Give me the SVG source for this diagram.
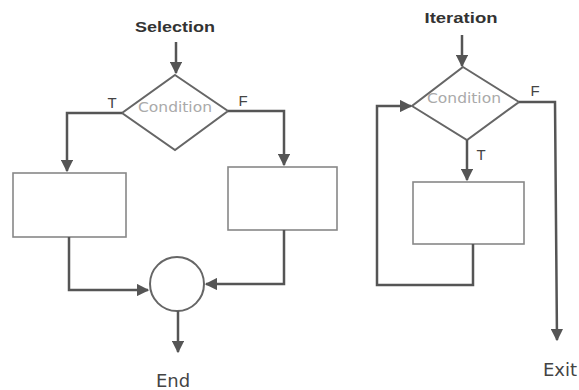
<svg xmlns="http://www.w3.org/2000/svg" width="579" height="390" viewBox="0 0 579 390">
  <style>
    .line { fill: none; stroke: #555; stroke-width: 2.5; }
    .shape { fill: #fff; stroke: #666; stroke-width: 2; }
    .box { fill: #fff; stroke: #888; stroke-width: 1.6; }
    .title { font-family: "Liberation Sans", Arial, sans-serif; font-size: 15px; font-weight: bold; fill: #333; text-anchor: middle; }
    .cond { font-family: "DejaVu Sans", sans-serif; font-size: 14px; fill: #aaa; text-anchor: middle; }
    .lbl { font-family: "Liberation Sans", Arial, sans-serif; font-size: 15px; fill: #444; text-anchor: middle; }
    .term { font-family: "DejaVu Sans", sans-serif; font-size: 18px; fill: #444; text-anchor: middle; }
  </style>
  <defs>
    <marker id="arrow" viewBox="0 0 10 10" refX="9" refY="5" markerWidth="5" markerHeight="5" orient="auto" markerUnits="strokeWidth">
      <path d="M0,0 L10,5 L0,10 z" fill="#555"/>
    </marker>
  </defs>

  <!-- Selection structure -->
  <text class="title" x="175" y="32" textLength="80" lengthAdjust="spacingAndGlyphs">Selection</text>
  <g id="sel-decision">
    <polygon class="shape" points="175,75 228,111 175,150 122,113"/>
    <text class="cond" x="175" y="112" textLength="74" lengthAdjust="spacingAndGlyphs">Condition</text>
  </g>
  <g id="sel-true-box">
    <rect class="box" x="13" y="173" width="113" height="64"/>
  </g>
  <g id="sel-false-box">
    <rect class="box" x="228" y="167" width="109" height="63"/>
  </g>
  <g id="sel-join">
    <circle class="shape" cx="177" cy="284" r="27"/>
  </g>
  <text class="lbl" x="112" y="108">T</text>
  <text class="lbl" x="243" y="106">F</text>
  <text class="term" x="173" y="387">End</text>

  <!-- Iteration structure -->
  <text class="title" x="461" y="23" textLength="73" lengthAdjust="spacingAndGlyphs">Iteration</text>
  <g id="iter-decision">
    <polygon class="shape" points="463,67 519,102 467,140 412,106"/>
    <text class="cond" x="464" y="103" textLength="74" lengthAdjust="spacingAndGlyphs">Condition</text>
  </g>
  <g id="iter-body">
    <rect class="box" x="413" y="182" width="111" height="62"/>
  </g>
  <text class="lbl" x="535" y="96">F</text>
  <text class="lbl" x="481" y="160">T</text>
  <text class="term" x="560" y="376">Exit</text>

  <g id="connectors">
    <!-- selection -->
    <path class="line" d="M176,42 L176,73" marker-end="url(#arrow)"/>
    <path class="line" d="M122,113 L67,113 L67,171" marker-end="url(#arrow)"/>
    <path class="line" d="M228,111 L284,111 L284,165" marker-end="url(#arrow)"/>
    <path class="line" d="M69,237 L69,290 L148,290" marker-end="url(#arrow)"/>
    <path class="line" d="M284,230 L284,284 L206,284" marker-end="url(#arrow)"/>
    <path class="line" d="M178,311 L178,352" marker-end="url(#arrow)"/>
    <!-- iteration -->
    <path class="line" d="M462,35 L462,66" marker-end="url(#arrow)"/>
    <path class="line" d="M519,102 L555,102 L557,340" marker-end="url(#arrow)"/>
    <path class="line" d="M467,140 L467,180" marker-end="url(#arrow)"/>
    <path class="line" d="M473,244 L473,285 L377,285 L377,106 L411,106" marker-end="url(#arrow)"/>
  </g>
</svg>
